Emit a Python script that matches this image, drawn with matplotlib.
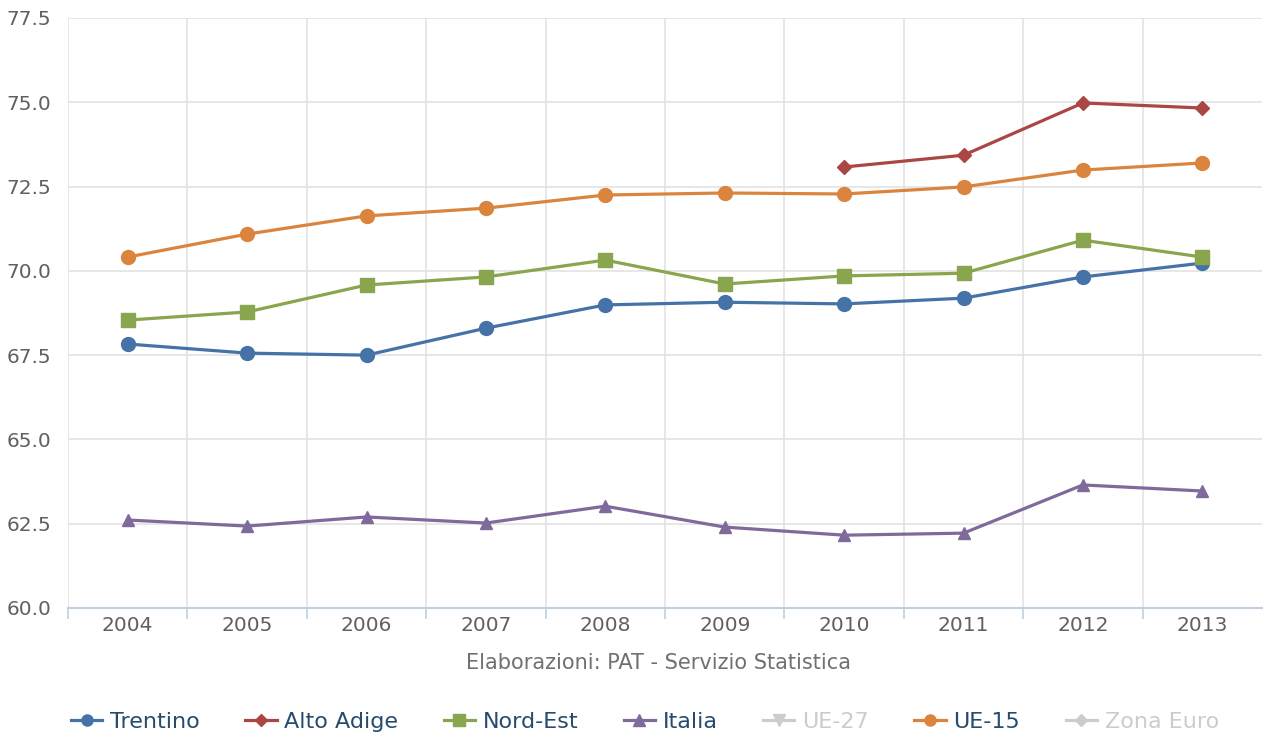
import numpy as np
import matplotlib.pyplot as plt
from matplotlib.lines import Line2D

# data
years = ['2004', '2005', '2006', '2007', '2008', '2009', '2010', '2011', '2012', '2013']
trentino = [67.83, 67.56, 67.50, 68.30, 68.99, 69.07, 69.02, 69.19, 69.82, 70.23]
alto_adige = [np.nan, np.nan, np.nan, np.nan, np.nan, np.nan, 73.08, 73.43, 74.98, 74.83]
nord_est = [68.54, 68.78, 69.58, 69.82, 70.32, 69.61, 69.85, 69.93, 70.91, 70.41]
italia = [62.61, 62.43, 62.70, 62.52, 63.02, 62.40, 62.16, 62.22, 63.65, 63.47]
ue15 = [70.41, 71.09, 71.63, 71.86, 72.25, 72.31, 72.28, 72.49, 72.99, 73.20]
y_ticks = [60.0, 62.5, 65.0, 67.5, 70.0, 72.5, 75.0, 77.5]

plt.rcParams['font.family'] = ['DejaVu Sans']

fig = plt.figure(figsize=(12.63, 7.35), dpi=100)
ax = fig.add_axes([68/1263, (735-608)/735, 1194/1263, 590/735])

x = np.arange(len(years))
#visible series
ax.plot(x, trentino, color='#4572A7', lw=2.3, marker='o', ms=10, zorder=3)
ax.plot(x, alto_adige, color='#AA4643', lw=2.3, marker='D', ms=7, zorder=3)
ax.plot(x, nord_est, color='#89A54E', lw=2.3, marker='s', ms=10, zorder=3)
ax.plot(x, italia, color='#80699B', lw=2.3, marker='^', ms=9, zorder=3)
ax.plot(x, ue15, color='#DB843D', lw=2.3, marker='o', ms=10, zorder=3)

ax.set_xlim(-0.5, len(years) - 0.5)
ax.set_ylim(60, 77.5)
ax.set_yticks(y_ticks)
ax.set_yticklabels(['%.1f' % v for v in y_ticks])
ax.set_xticks(x)
ax.set_xticklabels(years)
#band boundaries (no line at the right edge)
ax.set_xticks(np.arange(-0.5, len(years) - 1), minor=True)

ax.tick_params(axis='x', which='major', length=0, labelsize=14.5, labelcolor='#606060', pad=6)
ax.tick_params(axis='x', which='minor', length=8, color='#C0D0E0', width=1.2)
ax.tick_params(axis='y', length=0, labelsize=14.5, labelcolor='#606060', pad=12)

ax.grid(axis='y', color='#E3E3E3', lw=1.2)
ax.grid(axis='x', which='minor', color='#E3E3E3', lw=1.2)
ax.set_axisbelow(True)
for s in ['top', 'right', 'left']:
    ax.spines[s].set_visible(False)
ax.spines['bottom'].set_color('#C0D0E0')
ax.spines['bottom'].set_linewidth(1.5)

fig.text(658/1263, 1 - 663/735, 'Elaborazioni: PAT - Servizio Statistica',
         ha='center', va='center', fontsize=15, color='#707070')

#legend, hidden series are grey
names = ['Trentino', 'Alto Adige', 'Nord-Est', 'Italia', 'UE-27', 'UE-15', 'Zona Euro']
colors = ['#4572A7', '#AA4643', '#89A54E', '#80699B', '#CCCCCC', '#DB843D', '#CCCCCC']
markers = ['o', 'D', 's', '^', 'v', 'o', 'D']
sizes = [8, 6, 8, 8, 8, 8, 6]
handles = [Line2D([], [], color=c, marker=m, ms=s, lw=2.3) for c, m, s in zip(colors, markers, sizes)]
leg = fig.legend(handles, names, loc='center', bbox_to_anchor=(645/1263, 1 - 722/735), ncol=7,
                 frameon=False, fontsize=16, handlelength=1.4, handletextpad=0.35,
                 columnspacing=2.05, borderpad=0)
for t, c in zip(leg.get_texts(), colors):
    t.set_color('#CCCCCC' if c == '#CCCCCC' else '#274B6D')

fig.savefig('out.png', dpi=100)
